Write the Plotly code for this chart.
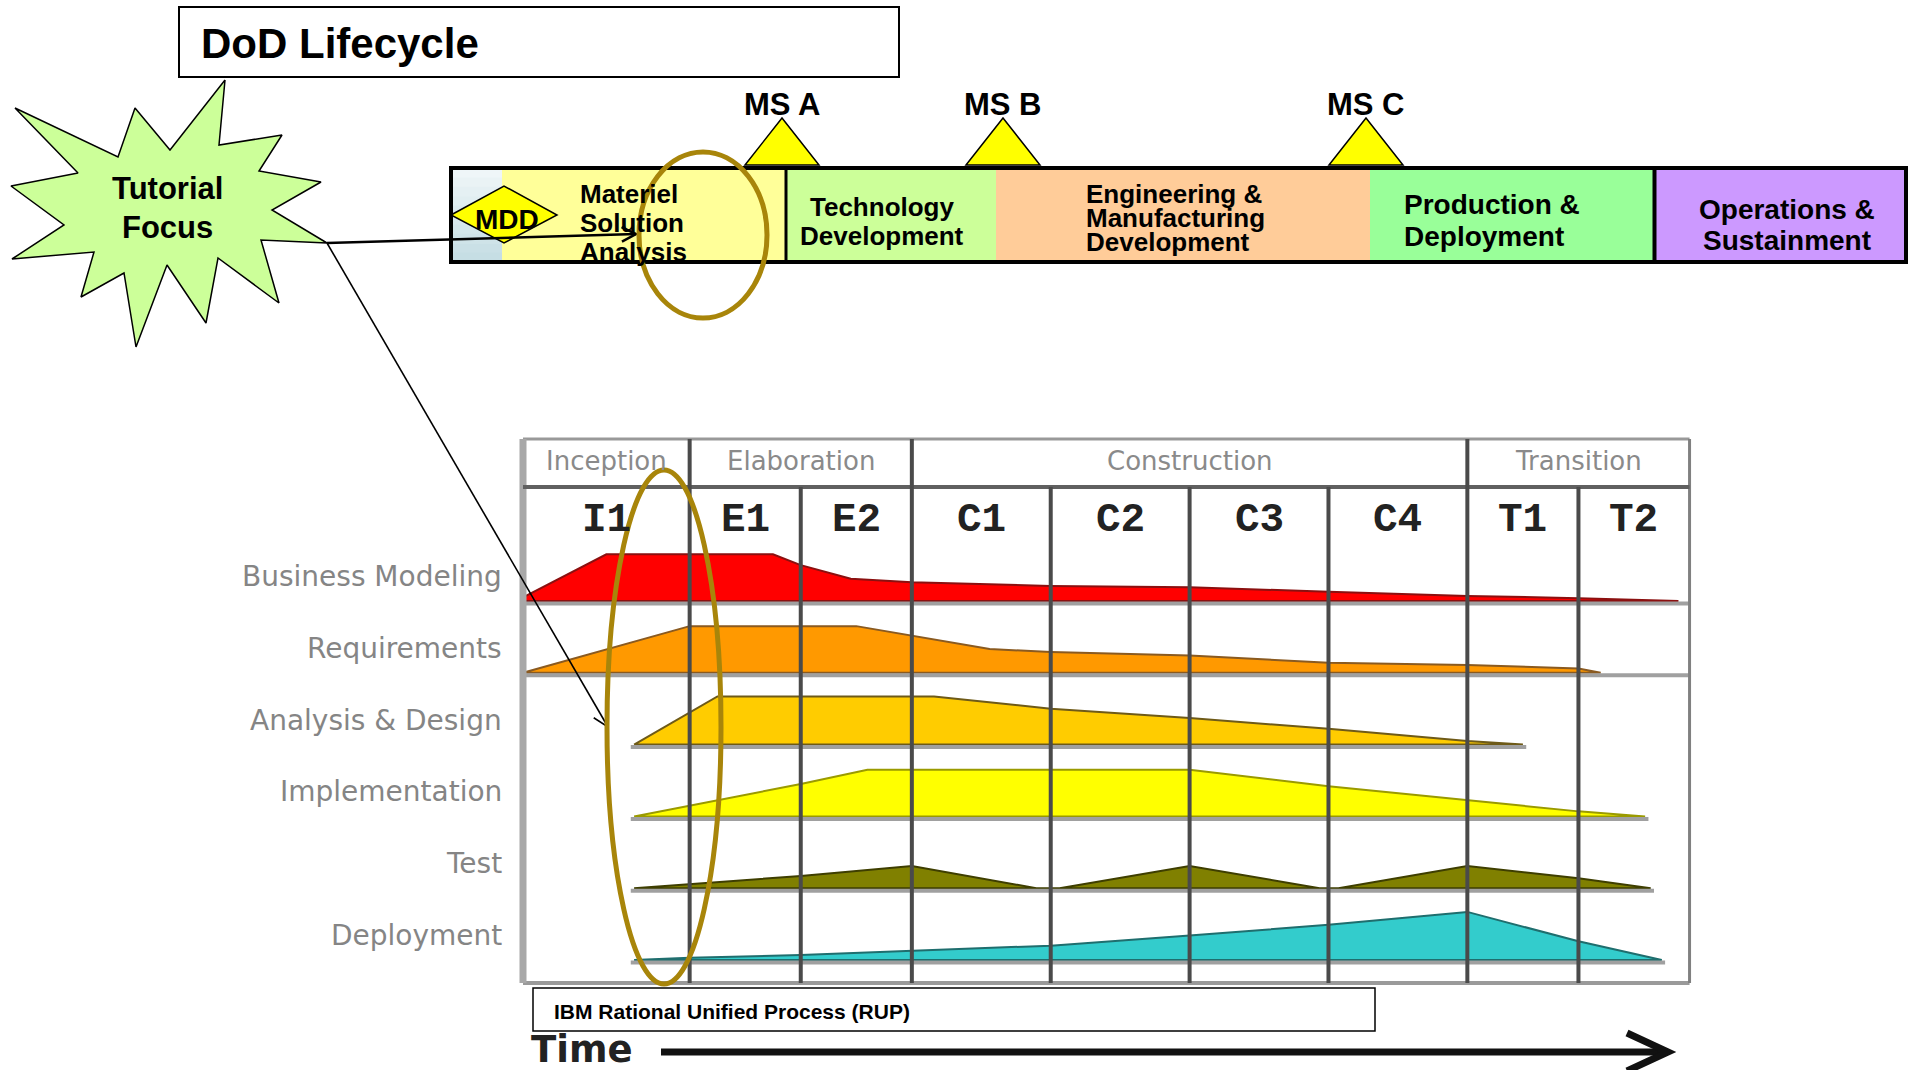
import numpy as np
import plotly.graph_objects as go

# ---------------------------------------------------------------- data
TITLE = "DoD Lifecycle"
FOCUS_LABEL = ["Tutorial", "Focus"]
DECISION_POINT = "MDD"
LIFECYCLE_PHASES = [
    "Materiel\nSolution\nAnalysis",
    "Technology\nDevelopment",
    "Engineering &\nManufacturing\nDevelopment",
    "Production &\nDeployment",
    "Operations &\nSustainment",
]
MILESTONES = ["MS A", "MS B", "MS C"]

RUP_TITLE = "IBM Rational Unified Process (RUP)"
TIME_LABEL = "Time"
RUP_PHASES = ["Inception", "Elaboration", "Construction", "Transition"]
RUP_PHASE_ITERATIONS = [1, 2, 4, 2]
ITERATIONS = ["I1", "E1", "E2", "C1", "C2", "C3", "C4", "T1", "T2"]
ITERATION_LENGTHS = [1.5, 1, 1, 1.25, 1.25, 1.25, 1.25, 1, 1]
DISCIPLINES = ["Business Modeling", "Requirements", "Analysis & Design",
               "Implementation", "Test", "Deployment"]

# effort profiles: time (iteration units) and relative effort per discipline
BUSINESS_MODELING_T = [0.0, 0.75, 2.25, 2.5, 2.95, 3.5, 4.75, 6.0, 7.25, 8.5, 9.5, 10.4]
BUSINESS_MODELING_E = [0.05, 0.65, 0.65, 0.5, 0.31, 0.26, 0.21, 0.19, 0.13, 0.07, 0.04, 0.0]
REQUIREMENTS_T = [0.0, 1.5, 3.0, 3.5, 4.2, 4.75, 6.0, 7.25, 8.5, 9.5, 9.7]
REQUIREMENTS_E = [0.0, 0.65, 0.65, 0.52, 0.33, 0.29, 0.24, 0.14, 0.11, 0.06, 0.0]
ANALYSIS_DESIGN_T = [1.0, 1.75, 3.7, 4.75, 6.0, 7.25, 8.5, 9.0]
ANALYSIS_DESIGN_E = [0.0, 0.67, 0.67, 0.5, 0.37, 0.22, 0.05, 0.0]
IMPLEMENTATION_T = [1.0, 1.5, 2.5, 3.1, 6.0, 7.25, 8.5, 9.5, 10.1]
IMPLEMENTATION_E = [0.0, 0.15, 0.45, 0.65, 0.65, 0.42, 0.22, 0.07, 0.0]
TEST_T = [1.0, 1.5, 2.5, 3.5, 4.62, 4.83, 6.0, 7.17, 7.34, 8.5, 9.5, 10.15]
TEST_E = [0.0, 0.06, 0.17, 0.31, 0.0, 0.0, 0.31, 0.0, 0.0, 0.31, 0.14, 0.0]
DEPLOYMENT_T = [1.0, 1.5, 2.5, 3.5, 4.75, 6.0, 7.25, 8.5, 9.5, 10.25]
DEPLOYMENT_E = [0.0, 0.03, 0.07, 0.13, 0.2, 0.34, 0.49, 0.67, 0.26, 0.0]

PROFILES = [
    (BUSINESS_MODELING_T, BUSINESS_MODELING_E),
    (REQUIREMENTS_T, REQUIREMENTS_E),
    (ANALYSIS_DESIGN_T, ANALYSIS_DESIGN_E),
    (IMPLEMENTATION_T, IMPLEMENTATION_E),
    (TEST_T, TEST_E),
    (DEPLOYMENT_T, DEPLOYMENT_E),
]

# ---------------------------------------------------------------- layout / styles
W, H = 1913, 1070
SANS = "Liberation Sans, Arial, sans-serif"
DJ = "DejaVu Sans, sans-serif"
MONO = "Liberation Mono, Courier New, monospace"
GOLD = "#A8850A"

# RUP sub-chart scale: pixels per time unit / per row
RUP_X0, RUP_DX = 523.0, 111.1
RUP_Y0, RUP_DY = 960.0, 71.8
X2_RANGE = [-0.1, 10.6]
Y2_RANGE = [-0.45, 7.4]
x2_domain = [(RUP_X0 + X2_RANGE[0] * RUP_DX) / W, (RUP_X0 + X2_RANGE[1] * RUP_DX) / W]
y2_domain = [(H - (RUP_Y0 - Y2_RANGE[0] * RUP_DY)) / H, (H - (RUP_Y0 - Y2_RANGE[1] * RUP_DY)) / H]
FRAME_TOP, FRAME_BOTTOM, HEADER_DIV = 7.256, -0.32, 6.588
PHASE_LABEL_Y, ITER_LABEL_Y = 6.95, 6.13
LABEL_RIGHT_PX = 504
TOTAL_T = float(sum(ITERATION_LENGTHS))

AREA_FILL = ["#FF0000", "#FF9900", "#FFCC00", "#FFFF00", "#808000", "#33CCCC"]
AREA_LINE = ["#8B1010", "#8A5A20", "#6E5A18", "#9A9A00", "#3E3E00", "#1F6E6E"]
FULL_BASELINE = {"Business Modeling", "Requirements"}

# lifecycle bar geometry (pixels)
BAR_TOP, BAR_BOTTOM = 168, 262
BAR_EDGES = [451, 502, 786, 996, 1370, 1653]
OS_BOX = (1656, 1906)
BAR_COLORS = ["#FFFF99", "#CCFF99", "#FFCC99", "#99FF99", "#CC99FF"]
PHASE_TEXT = [
    dict(x=578, anchor="left", y0=194, dy=29, size=26),
    dict(x=882, anchor="center", y0=207, dy=29, size=26),
    dict(x=1084, anchor="left", y0=194, dy=24, size=26),
    dict(x=1402, anchor="left", y0=204, dy=32, size=28),
    dict(x=1787, anchor="center", y0=209, dy=31, size=28),
]
MS_CENTERS = [782, 1003, 1366]

STAR_OUTLINE = [(225, 80), (219, 145), (282, 135), (259, 171), (321, 182), (272, 210),
                (327, 243), (261, 240), (279, 303), (218, 258), (206, 323), (167, 265),
                (136, 347), (124, 273), (81, 297), (94, 252), (12, 259), (64, 225),
                (11, 186), (78, 173), (15, 108), (118, 157), (135, 108), (170, 150)]

shapes, annotations = [], []


def rect(x0, y0, x1, y1, fill=None, color=None, lw=0, ref=("x", "y")):
    shapes.append(dict(type="rect", xref=ref[0], yref=ref[1], x0=x0, y0=y0, x1=x1, y1=y1,
                       fillcolor=fill or "rgba(0,0,0,0)",
                       line=dict(color=color or "rgba(0,0,0,0)", width=lw)))


def seg(x0, y0, x1, y1, color, lw, ref=("x", "y")):
    shapes.append(dict(type="line", xref=ref[0], yref=ref[1], x0=x0, y0=y0, x1=x1, y1=y1,
                       line=dict(color=color, width=lw)))


def poly(points, closed=True, fill=None, color="black", lw=1, ref=("x", "y")):
    d = "M " + " L ".join(f"{px:.2f} {py:.2f}" for px, py in points)
    if closed:
        d += " Z"
    shapes.append(dict(type="path", xref=ref[0], yref=ref[1], path=d,
                       fillcolor=fill or "rgba(0,0,0,0)", line=dict(color=color, width=lw)))


def text(x, y, s, size, family=SANS, color="black", bold=True, anchor="center", ref=("x", "y")):
    annotations.append(dict(x=x, y=y, xref=ref[0], yref=ref[1], text=s, showarrow=False,
                            xanchor=anchor, yanchor="middle",
                            font=dict(size=size, family=family, color=color,
                                      weight="bold" if bold else "normal")))


def arrow(x0, y0, x1, y1, lw, head=17, angle=27):
    seg(x0, y0, x1, y1, "black", lw)
    d = np.array([x1 - x0, y1 - y0], float)
    d /= np.linalg.norm(d)
    wings = []
    for s in (1, -1):
        a = np.radians(s * angle)
        r = np.array([d[0] * np.cos(a) - d[1] * np.sin(a), d[0] * np.sin(a) + d[1] * np.cos(a)])
        wings.append((x1 - head * r[0], y1 - head * r[1]))
    poly([wings[0], (x1, y1), wings[1]], closed=False, color="black", lw=lw)


fig = go.Figure()

# ---------------------------------------------------------------- title and callout
rect(179, 7, 899, 77, fill="white", color="black", lw=2)
text(199, 43, TITLE, 42, anchor="left")

sx = [p[0] for p in STAR_OUTLINE] + [STAR_OUTLINE[0][0]]
sy = [p[1] for p in STAR_OUTLINE] + [STAR_OUTLINE[0][1]]
fig.add_trace(go.Scatter(x=sx, y=sy, mode="lines", fill="toself", fillcolor="#CCFF99",
                         line=dict(color="black", width=1.5), hoverinfo="skip", showlegend=False))
for i, line in enumerate(FOCUS_LABEL):
    text(167, 188 + 39 * i, line, 31)

# ---------------------------------------------------------------- lifecycle bar
# pre-decision strip with a soft vertical gradient
n_strip = 10
top_c, bot_c = np.array([0xEF, 0xF6, 0xF8]), np.array([0xC6, 0xDE, 0xE4])
for k in range(n_strip):
    c = top_c + (bot_c - top_c) * k / (n_strip - 1)
    ya = BAR_TOP + (BAR_BOTTOM - BAR_TOP) * k / n_strip
    yb = BAR_TOP + (BAR_BOTTOM - BAR_TOP) * (k + 1) / n_strip
    rect(BAR_EDGES[0], ya, BAR_EDGES[1], yb + 0.5, fill="rgb(%d,%d,%d)" % tuple(c.astype(int)))
for i in range(4):
    rect(BAR_EDGES[i + 1], BAR_TOP, BAR_EDGES[i + 2], BAR_BOTTOM, fill=BAR_COLORS[i])
rect(OS_BOX[0], BAR_TOP, OS_BOX[1], BAR_BOTTOM, fill=BAR_COLORS[4])
rect(BAR_EDGES[0], BAR_TOP, OS_BOX[1], BAR_BOTTOM, color="black", lw=4)
seg(BAR_EDGES[2], BAR_TOP, BAR_EDGES[2], BAR_BOTTOM, "black", 3)
seg((BAR_EDGES[5] + OS_BOX[0]) / 2, BAR_TOP, (BAR_EDGES[5] + OS_BOX[0]) / 2, BAR_BOTTOM, "black", 4)

for name, lay in zip(LIFECYCLE_PHASES, PHASE_TEXT):
    for j, line in enumerate(name.split("\n")):
        text(lay["x"], lay["y0"] + j * lay["dy"], line, lay["size"], anchor=lay["anchor"])

# decision diamond
poly([(451, 215), (504, 186), (557, 215), (504, 243)], fill="#FFFF00", color="black", lw=1.5)
text(507, 219, DECISION_POINT, 28)

# milestones
for name, cx in zip(MILESTONES, MS_CENTERS):
    poly([(cx - 37, 165), (cx, 118), (cx + 37, 165)], fill="#FFFF00", color="black", lw=1.5)
    text(cx, 104, name, 31)

# callout connectors
arrow(327, 243, 636, 234, 2.5, head=16)
shapes.append(dict(type="circle", xref="x", yref="y", x0=639, x1=767, y0=152, y1=318,
                   line=dict(color=GOLD, width=5)))

# ---------------------------------------------------------------- RUP chart
R = ("x2", "y2")
bounds = np.concatenate([[0.0], np.cumsum(ITERATION_LENGTHS)])
phase_idx = np.concatenate([[0], np.cumsum(RUP_PHASE_ITERATIONS)])

for k, (name, (t, e)) in enumerate(zip(DISCIPLINES, PROFILES)):
    base = len(DISCIPLINES) - 1 - k
    t = list(t)
    top = [base + v for v in e]
    fig.add_trace(go.Scatter(x=t + t[::-1], y=top + [base] * len(t), xaxis="x2", yaxis="y2",
                             mode="lines", fill="toself", fillcolor=AREA_FILL[k],
                             line=dict(color=AREA_LINE[k], width=2),
                             hoverinfo="skip", showlegend=False))
    x_start = 0.0 if name in FULL_BASELINE else t[0] - 0.03
    x_end = TOTAL_T if name in FULL_BASELINE else t[-1] + 0.03
    seg(x_start, base - 0.035, x_end, base - 0.035, "#A0A0A0", 4, R)
    # row caption sits left of the chart frame, on the page axes
    text(LABEL_RIGHT_PX, RUP_Y0 - (base + 0.34) * RUP_DY, name, 28, family=DJ,
         color="#858585", bold=False, anchor="right")

# frame and grid
seg(0, FRAME_TOP, TOTAL_T, FRAME_TOP, "#999999", 3, R)
seg(0, FRAME_BOTTOM, TOTAL_T, FRAME_BOTTOM, "#9A9A9A", 4, R)
seg(TOTAL_T, FRAME_BOTTOM, TOTAL_T, FRAME_TOP, "#808080", 3, R)
seg(0, FRAME_BOTTOM, 0, FRAME_TOP, "#A8A8A8", 7, R)
seg(0, HEADER_DIV, TOTAL_T, HEADER_DIV, "#606060", 4, R)
phase_bounds = set(bounds[phase_idx[1:-1]].round(4))
for b in bounds[1:-1]:
    y_top = FRAME_TOP if round(b, 4) in phase_bounds else HEADER_DIV
    seg(b, FRAME_BOTTOM, b, y_top, "#4A4A4A", 4, R)

for p, name in enumerate(RUP_PHASES):
    mid = (bounds[phase_idx[p]] + bounds[phase_idx[p + 1]]) / 2
    text(mid, PHASE_LABEL_Y, name, 26, family=DJ, color="#8A8A8A", bold=False, ref=R)
for i, name in enumerate(ITERATIONS):
    text((bounds[i] + bounds[i + 1]) / 2, ITER_LABEL_Y, name, 41, family=MONO, color="#222222", ref=R)

# callout arrow into the RUP chart and highlight
arrow(327, 243, 608, 727, 1.6, head=17)
shapes.append(dict(type="circle", xref="x", yref="y", x0=607, x1=721, y0=470, y1=984,
                   line=dict(color=GOLD, width=5)))

# caption box and time axis
rect(533, 988, 1375, 1031, fill="white", color="black", lw=1.5)
text(552, 1011, RUP_TITLE, 21, anchor="left")
text(529, 1049, TIME_LABEL, 37, family=DJ, color="#222222", anchor="left")
seg(661, 1052, 1664, 1052, "#111111", 7)
poly([(1627, 1033), (1668, 1052), (1627, 1071)], closed=False, color="#111111", lw=7)

fig.update_layout(
    width=W, height=H, autosize=False,
    margin=dict(l=0, r=0, t=0, b=0),
    paper_bgcolor="white", plot_bgcolor="white",
    xaxis=dict(range=[0, W], domain=[0, 1], visible=False, fixedrange=True),
    yaxis=dict(range=[H, 0], domain=[0, 1], visible=False, fixedrange=True),
    xaxis2=dict(range=X2_RANGE, domain=x2_domain, anchor="y2", visible=False, fixedrange=True),
    yaxis2=dict(range=Y2_RANGE, domain=y2_domain, anchor="x2", visible=False, fixedrange=True),
    shapes=shapes, annotations=annotations, showlegend=False,
)

fig.write_html("out.html", config={"displayModeBar": False})
